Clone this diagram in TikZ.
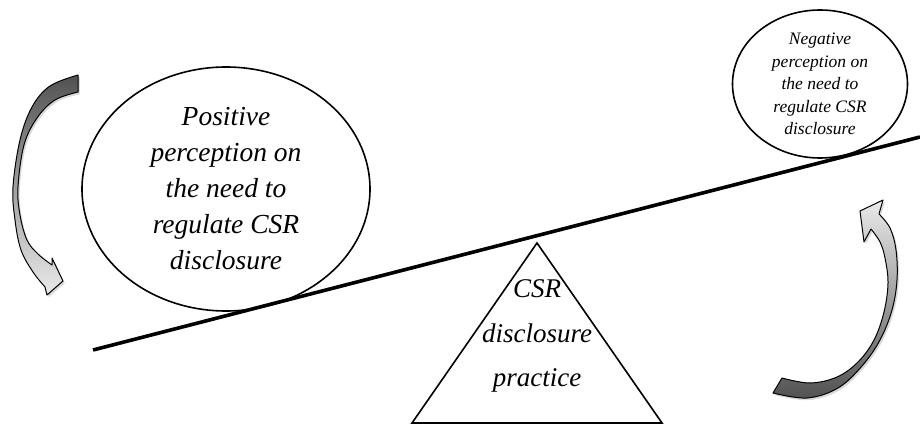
\documentclass[tikz,border=0pt]{standalone}
\usepackage{fontspec}
\setmainfont{Liberation Serif}
\usetikzlibrary{shapes.geometric}
\begin{document}
\begin{tikzpicture}[x=1pt,y=-1pt,
  bubble/.style={draw=black, line width=1.6pt, ellipse, inner sep=0pt, align=center},
  bigtext/.style={font=\fontsize{27.5}{36}\selectfont\itshape},
  smalltext/.style={font=\fontsize{17.5}{22.5}\selectfont\itshape},
  tritext/.style={align=center, inner sep=0pt, font=\fontsize{27}{44.5}\selectfont\itshape},
  beam/.style={line width=3.6pt},
  fulcrum/.style={draw=black, line width=1.6pt, line join=miter},
  curvedarrow/.style={draw=black, line width=1pt, line join=round,
    preaction={fill=black!15, transform canvas={shift={(1.8pt,-2.2pt)}}}}
]
\useasboundingbox (0,0) rectangle (920,425);

% beam
\coordinate (beamL) at (93,350);
\coordinate (beamR) at (920,137);
\draw[beam] (beamL) -- (beamR);

% fulcrum triangle
\coordinate (apex) at (537,243);
\coordinate (baseL) at (412,423);
\coordinate (baseR) at (662,423);
\draw[fulcrum] (apex) -- (baseL) -- (baseR) -- cycle;
\node[tritext] (practice) at (537,336) {CSR\\disclosure\\practice};

% ellipses
\node[bubble, bigtext, minimum width=288pt, minimum height=244pt] (positive) at (226,189)
  {Positive\\perception on\\the need to\\regulate CSR\\disclosure};
\node[bubble, smalltext, minimum width=175pt, minimum height=148pt] (negative) at (820,84)
  {Negative\\perception on\\the need to\\regulate CSR\\disclosure};

% left curved arrow (dark tail at top, light head at bottom)
\shade[curvedarrow, top color=black!68, middle color=black!40, bottom color=black!8]
  plot[smooth, tension=0.6] coordinates {(78,75) (50,86) (32,107) (20,140) (13,187) (15,220) (21,250) (33,272) (45,287)}
  -- (47,295) -- (63,281) -- (52,258) -- (52,265)
  -- plot[smooth, tension=0.6] coordinates {(52,265) (38,254) (27,240) (20,215) (18,187) (24,145) (37,118) (55,100) (78,92)}
  -- cycle;

% right curved arrow (dark tail at bottom, light head at top)
\shade[curvedarrow, bottom color=black!68, middle color=black!35, top color=black!8]
  plot[smooth, tension=0.6] coordinates {(782,378) (810,383) (837,377) (858,362) (874,340) (884,312) (888,283) (885,258) (880,242) (871,229)}
  -- (864,242) -- (860,211) -- (883,200) -- (879,214)
  -- plot[smooth, tension=0.6] coordinates {(879,214) (890,228) (896,250) (897,280) (892,310) (880,340) (862,366) (838,388) (807,398) (773,393)}
  -- cycle;
\end{tikzpicture}
\end{document}
